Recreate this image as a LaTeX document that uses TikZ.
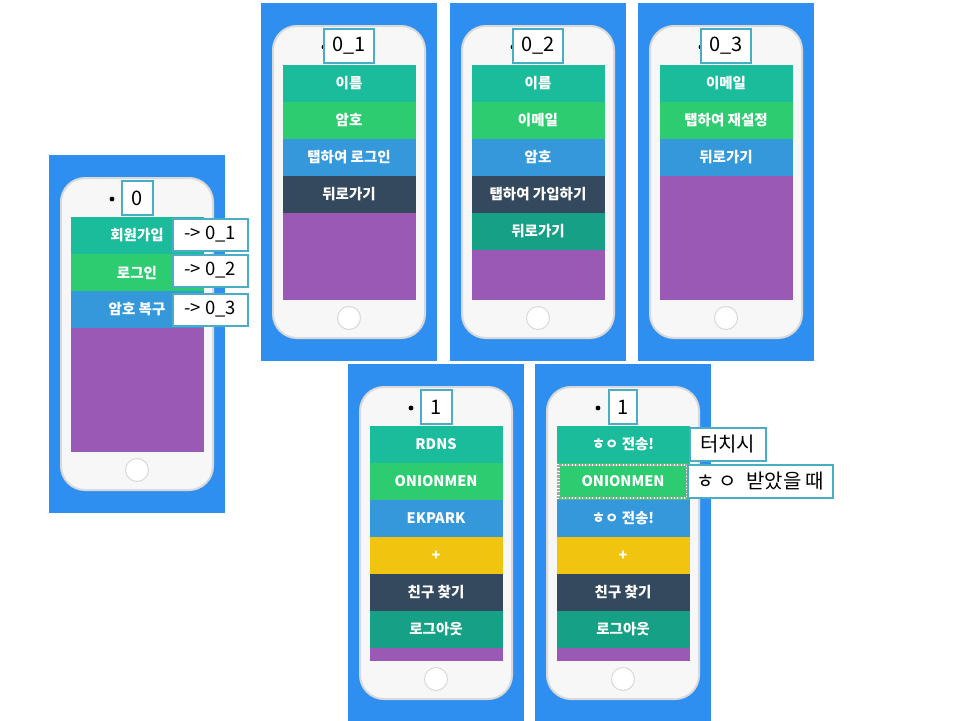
\documentclass[tikz,border=0pt]{standalone}
\usepackage{fontspec}
\setmainfont{Noto Sans CJK KR}
\usepackage{tikz}
\usetikzlibrary{positioning}
\definecolor{mkblue}{HTML}{2F8FF0}
\definecolor{mkbody}{HTML}{F7F7F7}
\definecolor{mkedge}{HTML}{D9D9D9}
\definecolor{mkteal}{HTML}{1ABC9C}
\definecolor{mkgreen}{HTML}{2ECC71}
\definecolor{mksky}{HTML}{3498DB}
\definecolor{mkpurple}{HTML}{9B59B6}
\definecolor{mknavy}{HTML}{34495E}
\definecolor{mksea}{HTML}{16A085}
\definecolor{mkyellow}{HTML}{F1C40F}
\definecolor{mkline}{HTML}{4BACC6}
\tikzset{
  mkpanel/.style={fill=mkblue, draw=none},
  mkphone/.style={fill=mkbody, draw=mkedge, line width=2pt, rounded corners=24pt},
  mkhome/.style={draw=mkedge, line width=1pt, fill=white},
  mkscreen/.style={fill=mkpurple, draw=none, minimum width=133pt, minimum height=235pt,
    inner sep=0pt, anchor=north},
  mkrow/.style={minimum width=133pt, minimum height=36.6pt, inner sep=0pt, text=white,
    font=\fontsize{14.5}{16}\selectfont\bfseries},
  mktitle/.style={draw=mkline, line width=2pt, fill=white, inner sep=0pt,
    minimum height=34pt, font=\fontsize{20}{22}\selectfont},
  mkgoto/.style={draw=mkline, line width=2pt, fill=white, inner sep=0pt,
    minimum width=75pt, minimum height=32pt, font=\fontsize{18.5}{20}\selectfont},
  mknote/.style={draw=mkline, line width=2pt, fill=white, inner sep=0pt,
    minimum height=33pt, font=\fontsize{20}{22}\selectfont}
}
\begin{document}
\begin{tikzpicture}[x=1pt, y=-1pt]
\useasboundingbox[fill=white] (0,0) rectangle (960,720);
% phone frames
\foreach \n/\px/\py in {0/49/155, a/261/3, b/450/3, c/638/3, d/348/364, e/535/364} {
  \fill[mkpanel] (\px,\py) rectangle ++(176,358);
  \fill[mkedge!70] (\px+11,\py+70) rectangle ++(2,14);
  \fill[mkedge!70] (\px+11,\py+95) rectangle ++(2,22);
  \fill[mkedge!70] (\px+11,\py+123) rectangle ++(2,22);
  \fill[mkedge!70] (\px+163,\py+95) rectangle ++(2,22);
  \draw[mkphone] (\px+12,\py+23) rectangle ++(152,312);
  \node[mkscreen] (scr\n) at (\px+88,\py+62) {};
  \draw[mkhome] (\px+88,\py+315) circle (11.5pt);
  \fill[black] (\px+63,\py+44) circle (2.4pt);
}
% 0
\node[mkrow, fill=mkteal, below=0pt of scr0.north] (r0a) {회원가입};
\node[mkrow, fill=mkgreen, below=0pt of r0a] (r0b) {로그인};
\node[mkrow, fill=mksky, below=0pt of r0b] (r0c) {암호 복구};
\node[mktitle, minimum width=31pt, above=1pt of scr0.north] (t0) {0};
\node[mkgoto, anchor=west] (go1) at ([xshift=-32pt,yshift=1pt]r0a.east) {-> 0\_1};
\node[mkgoto, anchor=west] (go2) at ([xshift=-32pt,yshift=2pt]r0b.east) {-> 0\_2};
\node[mkgoto, anchor=west] (go3) at ([xshift=-32pt]r0c.east) {-> 0\_3};
% 0_1
\node[mkrow, fill=mkteal, below=0pt of scra.north] (raa) {이름};
\node[mkrow, fill=mkgreen, below=0pt of raa] (rab) {암호};
\node[mkrow, fill=mksky, below=0pt of rab] (rac) {탭하여 로그인};
\node[mkrow, fill=mknavy, below=0pt of rac] (rad) {뒤로가기};
\node[mktitle, minimum width=50pt, above=1pt of scra.north] (ta) {0\_1};
% 0_2
\node[mkrow, fill=mkteal, below=0pt of scrb.north] (rba) {이름};
\node[mkrow, fill=mkgreen, below=0pt of rba] (rbb) {이메일};
\node[mkrow, fill=mksky, below=0pt of rbb] (rbc) {암호};
\node[mkrow, fill=mknavy, below=0pt of rbc] (rbd) {탭하여 가입하기};
\node[mkrow, fill=mksea, below=0pt of rbd] (rbe) {뒤로가기};
\node[mktitle, minimum width=50pt, above=1pt of scrb.north] (tb) {0\_2};
% 0_3
\node[mkrow, fill=mkteal, below=0pt of scrc.north] (rca) {이메일};
\node[mkrow, fill=mkgreen, below=0pt of rca] (rcb) {탭하여 재설정};
\node[mkrow, fill=mksky, below=0pt of rcb] (rcc) {뒤로가기};
\node[mktitle, minimum width=50pt, above=1pt of scrc.north] (tc) {0\_3};
% 1 (friends)
\node[mkrow, fill=mkteal, below=0pt of scrd.north] (rda) {RDNS};
\node[mkrow, fill=mkgreen, below=0pt of rda] (rdb) {ONIONMEN};
\node[mkrow, fill=mksky, below=0pt of rdb] (rdc) {EKPARK};
\node[mkrow, fill=mkyellow, below=0pt of rdc] (rdd) {+};
\node[mkrow, fill=mknavy, below=0pt of rdd] (rde) {친구 찾기};
\node[mkrow, fill=mksea, below=0pt of rde] (rdf) {로그아웃};
\node[mktitle, minimum width=31pt, above=1pt of scrd.north] (td) {1};
% 1 (messages)
\node[mkrow, fill=mkteal, below=0pt of scre.north] (rea) {ㅎㅇ 전송!};
\node[mkrow, fill=mkgreen, below=0pt of rea] (reb) {ONIONMEN};
\node[mkrow, fill=mksky, below=0pt of reb] (rec) {ㅎㅇ 전송!};
\node[mkrow, fill=mkyellow, below=0pt of rec] (red) {+};
\node[mkrow, fill=mknavy, below=0pt of red] (ree) {친구 찾기};
\node[mkrow, fill=mksea, below=0pt of ree] (ref) {로그아웃};
\node[mktitle, minimum width=28pt, above=1pt of scre.north] (te) {1};
\draw[white, line width=2.4pt] ([shift={(2pt,-2pt)}]reb.north west) rectangle ([shift={(-3pt,2pt)}]reb.south east);
\draw[gray!70, line width=2.4pt, densely dotted] ([shift={(2pt,-2pt)}]reb.north west) rectangle ([shift={(-3pt,2pt)}]reb.south east);
\node[mknote, minimum width=76pt, anchor=west] (touch) at ([xshift=-1pt]rea.east) {터치시};
\node[mknote, minimum width=145pt, anchor=west] (recv) at ([xshift=-3pt]reb.east) {ㅎ ㅇ \ 받았을 때};
\end{tikzpicture}
\end{document}
